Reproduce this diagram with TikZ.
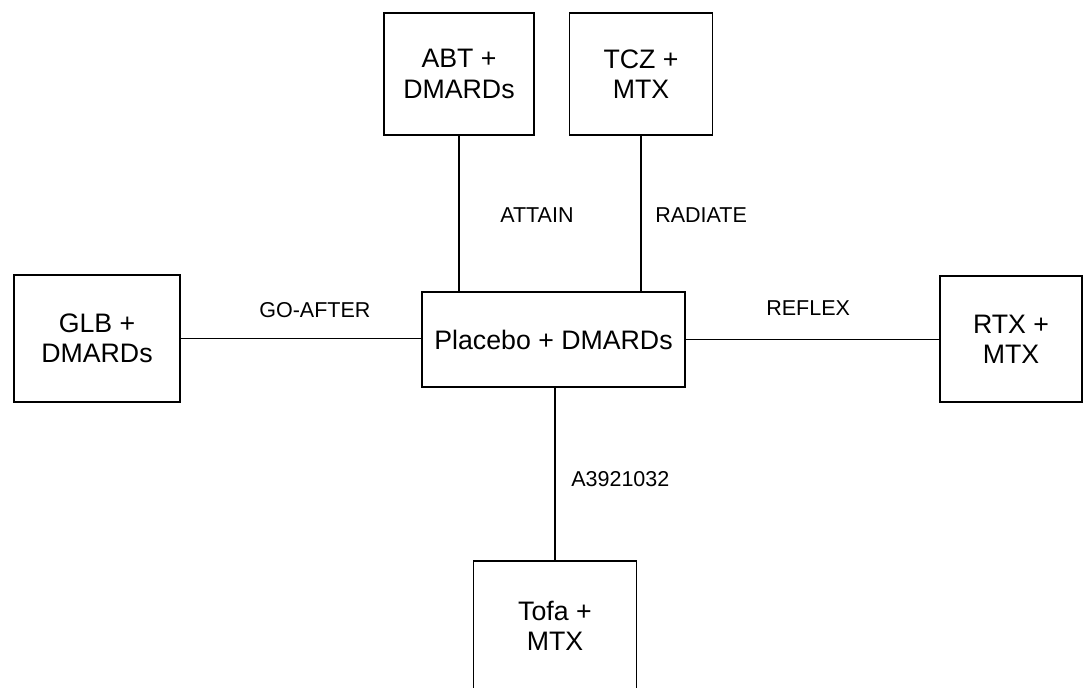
\documentclass[tikz,border=0pt]{standalone}
\usepackage{fontspec}
\setmainfont{Liberation Sans}
\begin{document}
\begin{tikzpicture}[x=0.025cm,y=-0.025cm,
  arm/.style={draw,line width=1pt,align=center,inner sep=0pt,
    font=\fontsize{19}{21.5}\selectfont},
  trial/.style={anchor=west,inner sep=0pt,font=\fontsize{15.3}{17}\selectfont},
  link/.style={line width=1pt}]

  \useasboundingbox (0,0) rectangle (1088,687);

  \node[arm,minimum width=150*0.025cm,minimum height=122*0.025cm] (abt) at (459,74) {ABT +\\DMARDs};
  \node[arm,minimum width=143*0.025cm,minimum height=122*0.025cm] (tcz) at (641,74) {TCZ +\\MTX};
  \node[arm,minimum width=166*0.025cm,minimum height=127*0.025cm] (glb) at (97,338.5) {GLB +\\DMARDs};
  \node[arm,minimum width=263*0.025cm,minimum height=95*0.025cm] (pbo) at (553.5,339.5) {Placebo + DMARDs};
  \node[arm,minimum width=142*0.025cm,minimum height=126*0.025cm] (rtx) at (1011,339) {RTX +\\MTX};
  \node[arm,minimum width=163*0.025cm,minimum height=130*0.025cm] (tofa) at (555,626) {Tofa +\\MTX};

  \node[trial] (l1) at (500,215) {ATTAIN};
  \node[trial] (l2) at (655,215) {RADIATE};
  \node[trial] (l3) at (259,310) {GO-AFTER};
  \node[trial] (l4) at (766,308.5) {REFLEX};
  \node[trial] (l5) at (571,479) {A3921032};

  \draw[link] (abt.south) -- (abt.south |- pbo.north);
  \draw[link] (tcz.south) -- (tcz.south |- pbo.north);
  \draw[link] (glb.east) -- (glb.east -| pbo.west);
  \draw[link] (pbo.east) -- (pbo.east -| rtx.west);
  \draw[link] (tofa.north) -- (tofa.north |- pbo.south);

\end{tikzpicture}
\end{document}
